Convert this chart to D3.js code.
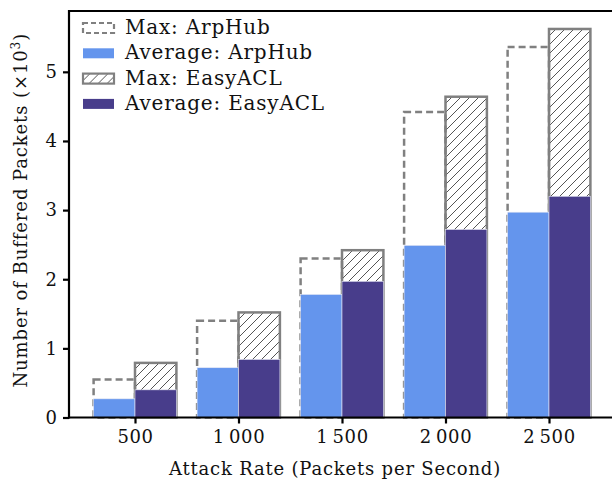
<!DOCTYPE html>
<html>
<head>
<meta charset="utf-8">
<script src="https://cdn.jsdelivr.net/npm/d3@7"></script>
<style>
  body { margin: 0; background: #fff; }
  text { font-family: "DejaVu Serif", "Liberation Serif", serif; fill: #111; }
</style>
</head>
<body>
<div id="chart"></div>
<script>
const rates = ["500", "1\u2009000", "1\u2009500", "2\u2009000", "2\u2009500"];
const arpAvg = [0.27, 0.72, 1.78, 2.49, 2.97];
const arpMax = [0.55, 1.40, 2.30, 4.42, 5.36];
const easyAvg = [0.40, 0.84, 1.97, 2.72, 3.20];
const easyMax = [0.79, 1.52, 2.42, 4.64, 5.62];
const yTicks = [0, 1, 2, 3, 4, 5];

const W = 612, H = 483;
const margin = {top: 11, right: 0, bottom: 65, left: 69};
const fontSize = "18px";

const svg = d3.select("#chart").append("svg")
  .attr("width", W).attr("height", H);

const defs = svg.append("defs");
defs.append("pattern")
  .attr("id", "hatch")
  .attr("patternUnits", "userSpaceOnUse")
  .attr("width", 9).attr("height", 9)
  .append("path")
  .attr("d", "M0,9 L9,0 M-2,2 L2,-2 M7,11 L11,7")
  .attr("stroke", "#555").attr("stroke-width", 1);

const x = d3.scalePoint().domain(rates).range([135, 549]);
const step = x.step();
const bw = step * 0.4;
const y = d3.scaleLinear().domain([0, 5.88]).range([H - margin.bottom - 0.5, margin.top]);

const g = svg.append("g");

// max bars behind
g.selectAll(".arpmax").data(rates).enter().append("rect")
  .attr("x", d => x(d) - bw)
  .attr("y", (d, i) => y(arpMax[i]))
  .attr("width", bw)
  .attr("height", (d, i) => y(0) - y(arpMax[i]))
  .attr("fill", "#fff")
  .attr("stroke", "#808080").attr("stroke-width", 2.5)
  .attr("stroke-dasharray", "7,4");

g.selectAll(".easymax").data(rates).enter().append("rect")
  .attr("x", d => x(d))
  .attr("y", (d, i) => y(easyMax[i]))
  .attr("width", bw)
  .attr("height", (d, i) => y(0) - y(easyMax[i]))
  .attr("fill", "url(#hatch)")
  .attr("stroke", "#808080").attr("stroke-width", 2.5);

// averages on top
g.selectAll(".arpavg").data(rates).enter().append("rect")
  .attr("x", d => x(d) - bw)
  .attr("y", (d, i) => y(arpAvg[i]))
  .attr("width", bw)
  .attr("height", (d, i) => y(0) - y(arpAvg[i]))
  .attr("fill", "#6495ed")
  .attr("stroke", "#e6e8f5").attr("stroke-width", 0.6);

g.selectAll(".easyavg").data(rates).enter().append("rect")
  .attr("x", d => x(d))
  .attr("y", (d, i) => y(easyAvg[i]))
  .attr("width", bw)
  .attr("height", (d, i) => y(0) - y(easyAvg[i]))
  .attr("fill", "#483d8b")
  .attr("stroke", "#e6e8f5").attr("stroke-width", 0.6);

// axes
const xAxis = svg.append("g")
  .attr("transform", `translate(0,${y(0)})`)
  .call(d3.axisBottom(x).tickSize(6).tickPadding(7));
xAxis.select(".domain").remove();
xAxis.selectAll("line").attr("stroke", "#000").attr("stroke-width", 2.2);
xAxis.selectAll("text").style("font-size", fontSize).attr("fill", "#111")
  .style("font-family", "'DejaVu Serif', serif")
  .style("letter-spacing", "0.6px");

const yAxis = svg.append("g")
  .attr("transform", `translate(${margin.left},0)`)
  .call(d3.axisLeft(y).tickValues(yTicks).tickFormat(d3.format("d")).tickSize(6).tickPadding(6));
yAxis.select(".domain").remove();
yAxis.selectAll("line").attr("stroke", "#000").attr("stroke-width", 2.2);
yAxis.selectAll("text").style("font-size", fontSize).attr("fill", "#111")
  .style("font-family", "'DejaVu Serif', serif");

// spines
svg.append("line").attr("x1", margin.left).attr("x2", margin.left)
  .attr("y1", y(0) + 1).attr("y2", margin.top - 1)
  .attr("stroke", "#000").attr("stroke-width", 2.2);
svg.append("line").attr("x1", margin.left - 1).attr("x2", W)
  .attr("y1", y(0)).attr("y2", y(0))
  .attr("stroke", "#000").attr("stroke-width", 2.2);
svg.append("line").attr("x1", margin.left - 1).attr("x2", W)
  .attr("y1", margin.top).attr("y2", margin.top)
  .attr("stroke", "#000").attr("stroke-width", 2.2);

// labels
svg.append("text")
  .attr("x", 335).attr("y", 475)
  .attr("text-anchor", "middle")
  .style("font-size", fontSize)
  .style("letter-spacing", "0.8px")
  .text("Attack Rate (Packets per Second)");

const yl = svg.append("text")
  .attr("transform", `translate(27,${(y(0) + margin.top) / 2 - 4}) rotate(-90)`)
  .attr("text-anchor", "middle")
  .style("font-size", fontSize)
  .style("letter-spacing", "0.9px");
yl.append("tspan").text("Number of Buffered Packets (×10");
yl.append("tspan").attr("dy", -7).style("font-size", "12px").text("3");
yl.append("tspan").attr("dy", 7).text(")");

// legend
const legendItems = [
  {label: "Max: ArpHub", fill: "#fff", stroke: "#808080", dash: "5,3"},
  {label: "Average: ArpHub", fill: "#6495ed", stroke: "none", dash: null},
  {label: "Max: EasyACL", fill: "url(#hatch)", stroke: "#808080", dash: null},
  {label: "Average: EasyACL", fill: "#483d8b", stroke: "none", dash: null}
];
const lg = svg.append("g").attr("transform", "translate(82,22)");
const row = lg.selectAll("g").data(legendItems).enter().append("g")
  .attr("transform", (d, i) => `translate(0,${i * 25.3})`);
row.append("rect")
  .attr("x", 1).attr("y", 1).attr("width", 31).attr("height", 10)
  .attr("fill", d => d.fill)
  .attr("stroke", d => d.stroke)
  .attr("stroke-width", 2.2)
  .attr("stroke-dasharray", d => d.dash);
row.append("text")
  .attr("x", 43).attr("y", 12)
  .style("font-size", "20px")
  .style("letter-spacing", "0.8px")
  .text(d => d.label);
</script>
</body>
</html>
